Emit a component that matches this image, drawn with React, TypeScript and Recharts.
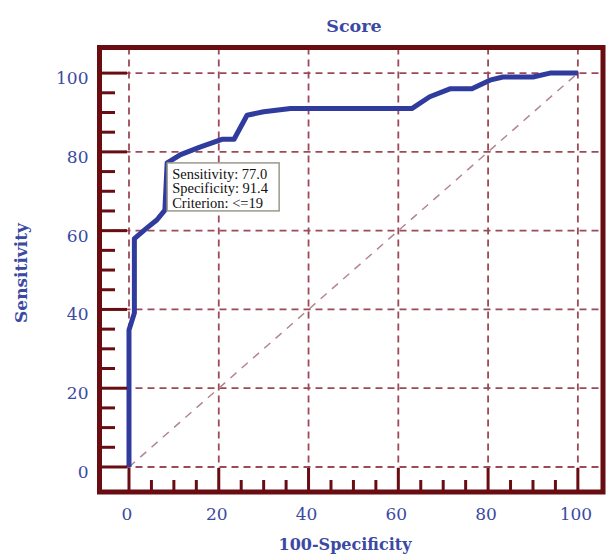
import React from "react";
import {
  LineChart,
  Line,
  XAxis,
  YAxis,
  CartesianGrid,
  ReferenceArea,
  ReferenceDot,
  Customized,
} from "recharts";

// ROC curve points: x = 100-Specificity, y = Sensitivity
const rocX = [0, 0, 1.2, 1.2, 4.0, 6.2, 8.0, 8.5, 11.5, 15.8, 20.7, 23.4, 26.3, 30.0, 36.0, 63.0, 67.0, 71.5, 76.4, 80.4, 83.3, 90.0, 93.8, 100];
const rocY = [0, 34.8, 39.1, 58.0, 60.7, 62.7, 65.2, 77.2, 79.3, 81.2, 83.2, 83.2, 89.3, 90.2, 91.0, 91.0, 94.0, 96.0, 96.0, 98.2, 99.0, 99.0, 100, 100];
const diagX = [0, 100];
const diagY = [0, 100];

const axisTicks = [0, 5, 10, 15, 20, 25, 30, 35, 40, 45, 50, 55, 60, 65, 70, 75, 80, 85, 90, 95, 100];
const gridValues = [0, 20, 40, 60, 80, 100];

const xDomain: [number, number] = [-6.57, 105.6];
const yDomain: [number, number] = [-6.35, 106.5];

const criterionPoint = { x: 8.5, y: 77.2 };
const criterionLines = ["Sensitivity: 77.0", "Specificity: 91.4", "Criterion: <=19"];

const title = "Score";
const xTitle = "100-Specificity";
const yTitle = "Sensitivity";

const rocData = rocX.map((x, i) => ({ x, y: rocY[i] }));
const diagData = diagX.map((x, i) => ({ x, y: diagY[i] }));

const FRAME = "#6a0d12";
const BLUE_TEXT = "#3b49a3";
const CURVE = "#2f3c9e";
const GRID = "#9c4a58";
const FONT = "DejaVu Serif, serif";

const YTick = (props: any) => {
  const { x, y, payload } = props;
  const v = payload.value;
  const major = v % 20 === 0;
  return (
    <g>
      <line x1={x} x2={x + (major ? 27.5 : 15.5)} y1={y} y2={y} stroke={FRAME} strokeWidth={3} />
      {major && (
        <text x={x - 11} y={y + 11} textAnchor="end" fill={BLUE_TEXT} fontFamily={FONT} fontSize={17}>
          {v}
        </text>
      )}
    </g>
  );
};

const XTick = (props: any) => {
  const { x, y, payload } = props;
  const v = payload.value;
  const major = v % 20 === 0;
  return (
    <g>
      <line x1={x} x2={x} y1={y} y2={y - (major ? 24 : 12)} stroke={FRAME} strokeWidth={3} />
      {major && (
        <text x={x - 2} y={y + 28} textAnchor="middle" fill={BLUE_TEXT} fontFamily={FONT} fontSize={17}>
          {v}
        </text>
      )}
    </g>
  );
};

const InfoBox = (props: any) => {
  const { cx, cy } = props;
  return (
    <g>
      <rect x={cx} y={cy} width={112} height={48} fill="#ffffff" stroke="#9a9a8a" strokeWidth={1.5} />
      {criterionLines.map((t, i) => (
        <text
          key={i}
          x={cx + 5}
          y={cy + 16 + i * 14.5}
          fill="#111"
          fontFamily="Liberation Serif, serif"
          fontSize={14.5}
        >
          {t}
        </text>
      ))}
    </g>
  );
};

const Titles = () => (
  <g>
    <text x={354} y={32} textAnchor="middle" fill={BLUE_TEXT} fontFamily={FONT} fontWeight="bold" fontSize={17.5}>
      {title}
    </text>
    <text x={345} y={550} textAnchor="middle" fill={BLUE_TEXT} fontFamily={FONT} fontWeight="bold" fontSize={16}>
      {xTitle}
    </text>
    <text
      x={27}
      y={273}
      textAnchor="middle"
      fill={BLUE_TEXT}
      fontFamily={FONT}
      fontWeight="bold"
      fontSize={17}
      transform="rotate(-90 27 273)"
    >
      {yTitle}
    </text>
  </g>
);

export default function App() {
  return (
    <div style={{ position: "absolute", left: 0, top: 0, width: 606, height: 555, background: "#fff" }}>
      <LineChart width={606} height={555} margin={{ top: 47.5, right: 3, bottom: 0, left: 0 }}>
        <CartesianGrid
          horizontalValues={gridValues}
          verticalValues={gridValues}
          stroke={GRID}
          strokeWidth={1.8}
          strokeDasharray="7 5"
        />
        <XAxis
          type="number"
          dataKey="x"
          domain={xDomain}
          ticks={axisTicks}
          interval={0}
          allowDataOverflow
          height={63}
          tickSize={0}
          tickMargin={0}
          tickLine={false}
          axisLine={false}
          tick={<XTick />}
        />
        <YAxis
          type="number"
          dataKey="y"
          domain={yDomain}
          ticks={axisTicks}
          interval={0}
          allowDataOverflow
          width={99.5}
          tickSize={0}
          tickMargin={0}
          tickLine={false}
          axisLine={false}
          tick={<YTick />}
        />
        <Line
          data={diagData}
          dataKey="y"
          type="linear"
          stroke="#b38690"
          strokeWidth={1.5}
          strokeDasharray="8 7"
          dot={false}
          activeDot={false}
          isAnimationActive={false}
        />
        <Line
          data={rocData}
          dataKey="y"
          type="linear"
          stroke={CURVE}
          strokeWidth={5}
          strokeLinejoin="round"
          dot={false}
          activeDot={false}
          isAnimationActive={false}
        />
        <ReferenceArea
          x1={xDomain[0]}
          x2={xDomain[1]}
          y1={yDomain[0]}
          y2={yDomain[1]}
          fill="none"
          fillOpacity={0}
          stroke={FRAME}
          strokeWidth={5}
          ifOverflow="visible"
        />
        <ReferenceDot
          x={criterionPoint.x}
          y={criterionPoint.y}
          r={0}
          ifOverflow="visible"
          shape={(p: any) => <InfoBox {...p} />}
        />
        <Customized component={Titles} />
      </LineChart>
    </div>
  );
}
